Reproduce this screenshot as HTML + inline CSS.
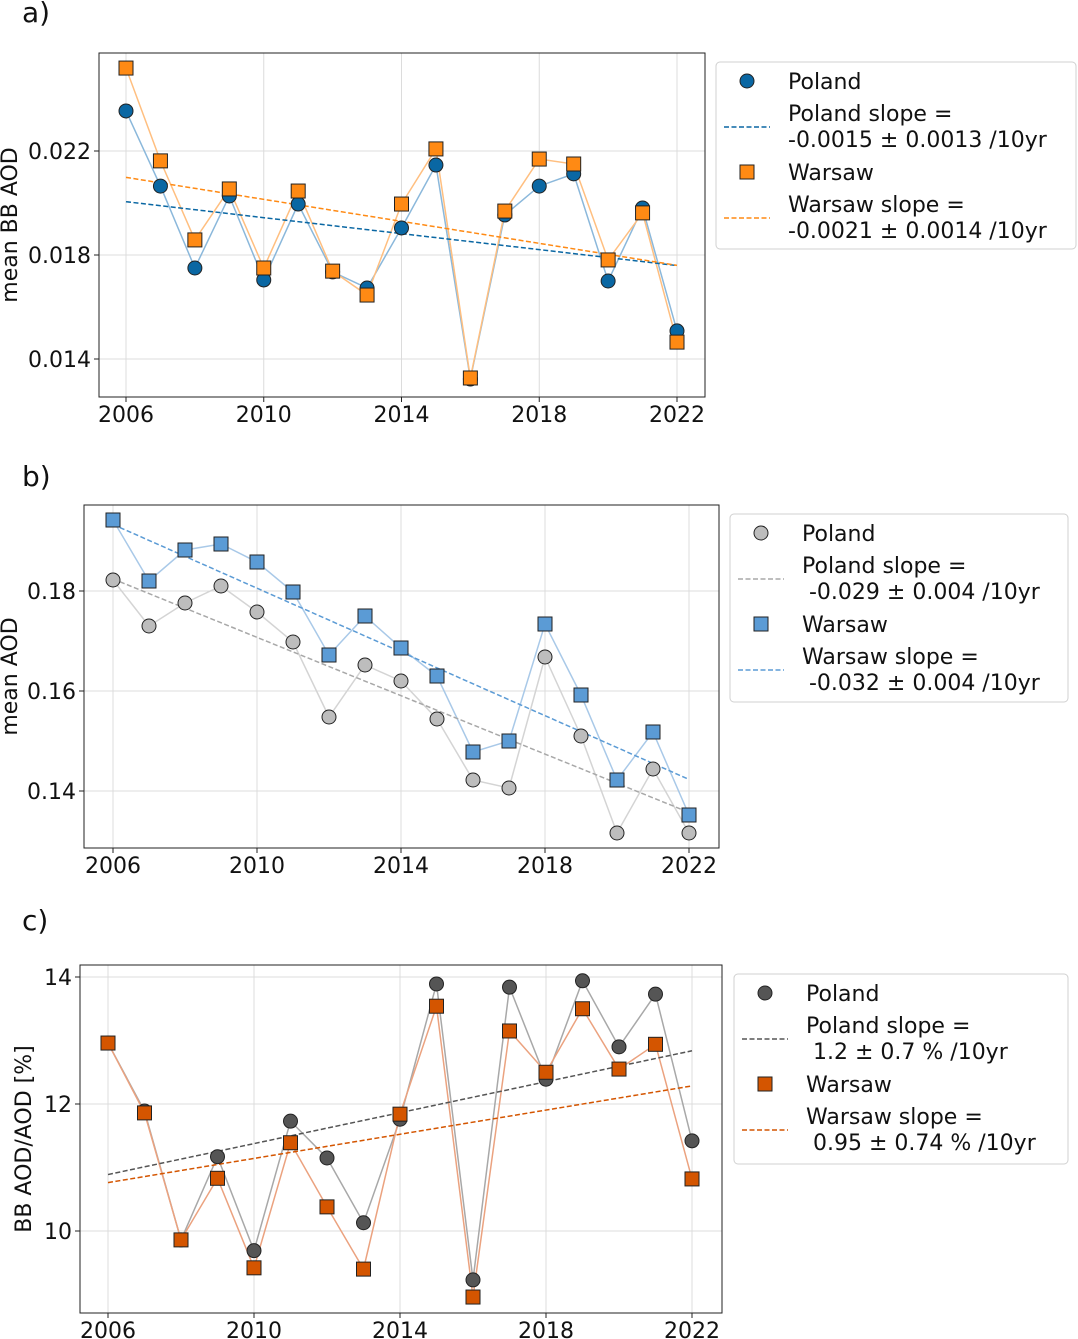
<!DOCTYPE html>
<html><head><meta charset="utf-8"><style>
body{margin:0;background:#fff;font-family:"DejaVu Sans","Liberation Sans",sans-serif}
svg{display:block}
svg text{font-family:"DejaVu Sans","Liberation Sans",sans-serif;white-space:pre}
</style></head><body>
<svg id="fig" width="1078" height="1339" viewBox="0 0 1078 1339" xmlns="http://www.w3.org/2000/svg"></svg>
<script>
const years=[2006,2007,2008,2009,2010,2011,2012,2013,2014,2015,2016,2017,2018,2019,2020,2021,2022];
const aPoland=[0.02354,0.02065,0.0175,0.02027,0.01704,0.01996,0.01735,0.01673,0.01904,0.02146,0.01323,0.01954,0.02065,0.02112,0.0170,0.01981,0.01508];
const aWarsaw=[0.02519,0.02162,0.01858,0.02054,0.0175,0.02046,0.01738,0.01646,0.01996,0.02208,0.01327,0.01969,0.02169,0.0215,0.01781,0.01962,0.01465];
const bPoland=[0.1822,0.173,0.1776,0.181,0.1758,0.1698,0.1548,0.1652,0.162,0.1544,0.1422,0.1406,0.1668,0.151,0.1316,0.1444,0.1316];
const bWarsaw=[0.1942,0.182,0.1882,0.1894,0.1858,0.1798,0.1672,0.175,0.1686,0.163,0.1478,0.15,0.1734,0.1592,0.1422,0.1518,0.1352];
const cPoland=[12.96,11.89,9.86,11.17,9.69,11.73,11.15,10.13,11.76,13.89,9.23,13.84,12.39,13.94,12.9,13.73,11.42];
const cWarsaw=[12.96,11.86,9.86,10.83,9.42,11.39,10.38,9.40,11.84,13.54,8.96,13.15,12.5,13.5,12.55,12.94,10.82];
const xTicks=[2006,2010,2014,2018,2022];
const aYTicks=[0.014,0.018,0.022];
const bYTicks=[0.14,0.16,0.18];
const cYTicks=[10,12,14];
const aYLabels=["0.014","0.018","0.022"];
const bYLabels=["0.14","0.16","0.18"];
const cYLabels=["10","12","14"];

const NS="http://www.w3.org/2000/svg";
const svg=document.getElementById('fig');
const FS=22;
function mk(tag,attrs,parent){const e=document.createElementNS(NS,tag);for(const k in attrs)e.setAttribute(k,attrs[k]);(parent||svg).appendChild(e);return e;}
function txt(s,attrs,parent){const e=mk('text',attrs,parent);e.textContent=s;return e;}
function fit(xs,ys){const n=xs.length;let mx=0,my=0;for(let i=0;i<n;i++){mx+=xs[i];my+=ys[i];}mx/=n;my/=n;let sxy=0,sxx=0;for(let i=0;i<n;i++){sxy+=(xs[i]-mx)*(ys[i]-my);sxx+=(xs[i]-mx)**2;}const b=sxy/sxx;return [my-b*mx,b];}

function panel(o){
  const g=mk('g',{},svg);
  
  
  const X=v=>o.x0+(v-2006)*(o.x1-o.x0)/16;
  const Y=v=>o.yA+(v-o.vA)*(o.yB-o.yA)/(o.vB-o.vA);
  xTicks.forEach(t=>{mk('line',{x1:X(t),x2:X(t),y1:o.top,y2:o.bot,stroke:'#dcdcdc','stroke-width':1},g);});
  o.yt.forEach(t=>{mk('line',{x1:o.left,x2:o.right,y1:Y(t),y2:Y(t),stroke:'#dcdcdc','stroke-width':1},g);});
  const series=[[o.p,o.pc,o.pl,'circle'],[o.w,o.wc,o.wl,'square']];
  const fits=[];
  series.forEach(([d,c,lc,m],si)=>{
    let pts=d.map((v,i)=>X(years[i])+','+Y(v)).join(' ');
    const pl=mk('polyline',{points:pts,fill:'none',stroke:lc,'stroke-width':1.5},g);
    
    
    fits.push(fit(years,d));
  });
  [[fits[0],o.pt],[fits[1],o.wt]].forEach(([f,c],i)=>{
    const l=mk('line',{x1:X(2006),y1:Y(f[0]+f[1]*2006),x2:X(2022),y2:Y(f[0]+f[1]*2022),stroke:c,'stroke-width':1.5,'stroke-dasharray':'5,2.5'},g);
    
    
  });
  series.forEach(([d,c,lc,m],si)=>{
    d.forEach((v,i)=>{
      let e;
      if(m==='circle') e=mk('circle',{cx:X(years[i]),cy:Y(v),r:7,fill:c,stroke:'#222','stroke-width':1},g);
      else e=mk('rect',{x:X(years[i])-7,y:Y(v)-7,width:14,height:14,fill:c,stroke:'#222','stroke-width':1},g);
      
      
    });
  });
  mk('rect',{x:o.left,y:o.top,width:o.right-o.left,height:o.bot-o.top,fill:'none',stroke:'#222','stroke-width':1},g);
  xTicks.forEach(t=>{mk('line',{x1:X(t),x2:X(t),y1:o.bot,y2:o.bot+5,stroke:'#222'},g);
    const tt=txt(String(t),{x:X(t),y:o.bot+25,'font-size':FS,'text-anchor':'middle',fill:'#111'},g);
    });
  o.yt.forEach((t,i)=>{mk('line',{x1:o.left-5,x2:o.left,y1:Y(t),y2:Y(t),stroke:'#222'},g);
    const tt=txt(o.yl[i],{x:o.left-8,y:Y(t)+8,'font-size':FS,'text-anchor':'end',fill:'#111'},g);
    });
  const yl=txt(o.ylabel,{x:0,y:0,'font-size':FS,'text-anchor':'middle',fill:'#111',transform:`translate(${o.ylx},${(o.top+o.bot)/2}) rotate(-90)`},g);
  
  const pl=txt(o.tag,{x:22,y:o.tagY,'font-size':28,fill:'#111'},g);
  
  const L=o.leg;
  const lg=mk('g',{},g);
  
  mk('rect',{x:L.x,y:L.y,width:L.w,height:L.h,rx:4,fill:'#fff',stroke:'#d0d0d0'},lg);
  const mx=L.x+31, tx=L.x+72;
  const r0=L.y+19;
  mk('circle',{cx:mx,cy:r0,r:7,fill:o.pc,stroke:'#222'},lg);
  txt('Poland',{x:tx,y:r0+8,'font-size':FS,fill:'#111'},lg);
  mk('line',{x1:mx-23,x2:mx+23,y1:r0+46,y2:r0+46,stroke:o.pt,'stroke-width':1.5,'stroke-dasharray':'5,2.5'},lg);
  txt(o.ps[0],{x:tx,y:r0+40,'font-size':FS,fill:'#111'},lg);
  txt(o.ps[1],{x:tx,y:r0+66,'font-size':FS,fill:'#111'},lg);
  const r2=r0+91;
  mk('rect',{x:mx-7,y:r2-7,width:14,height:14,fill:o.wc,stroke:'#222'},lg);
  txt('Warsaw',{x:tx,y:r2+8,'font-size':FS,fill:'#111'},lg);
  mk('line',{x1:mx-23,x2:mx+23,y1:r2+46,y2:r2+46,stroke:o.wt,'stroke-width':1.5,'stroke-dasharray':'5,2.5'},lg);
  txt(o.ws[0],{x:tx,y:r2+40,'font-size':FS,fill:'#111'},lg);
  txt(o.ws[1],{x:tx,y:r2+66,'font-size':FS,fill:'#111'},lg);
}

panel({name:'panel-a',tag:'a)',tagY:22,left:99,right:705,top:53,bot:397,x0:126,x1:677,yA:151,vA:0.022,yB:359,vB:0.014,
  yt:aYTicks,yl:aYLabels,ylabel:'mean BB AOD',ylx:17,
  p:aPoland,w:aWarsaw,pc:'#0a67a3',pl:'#8bb8db',pt:'#0a67a3',wc:'#ff8a14',wl:'#ffbf80',wt:'#ff8a14',
  ps:['Poland slope =','-0.0015 ± 0.0013 /10yr'],ws:['Warsaw slope =','-0.0021 ± 0.0014 /10yr'],
  leg:{x:716,y:62,w:360,h:187}});
panel({name:'panel-b',tag:'b)',tagY:486,left:84,right:719,top:505,bot:848,x0:113,x1:689,yA:591,vA:0.18,yB:791,vB:0.14,
  yt:bYTicks,yl:bYLabels,ylabel:'mean AOD',ylx:17,
  p:bPoland,w:bWarsaw,pc:'#bdbdbd',pl:'#d4d4d4',pt:'#a8a8a8',wc:'#5b9bd5',wl:'#a9c9e8',wt:'#5b9bd5',
  ps:['Poland slope =',' -0.029 ± 0.004 /10yr'],ws:['Warsaw slope =',' -0.032 ± 0.004 /10yr'],
  leg:{x:730,y:514,w:338,h:188}});
panel({name:'panel-c',tag:'c)',tagY:930,left:80,right:722,top:965,bot:1313,x0:108,x1:692,yA:1104,vA:12,yB:1231,vB:10,
  yt:cYTicks,yl:cYLabels,ylabel:'BB AOD/AOD [%]',ylx:31,
  p:cPoland,w:cWarsaw,pc:'#555555',pl:'#a8a8a8',pt:'#555555',wc:'#d45500',wl:'#eba27f',wt:'#d45500',
  ps:['Poland slope =',' 1.2 ± 0.7 % /10yr'],ws:['Warsaw slope =',' 0.95 ± 0.74 % /10yr'],
  leg:{x:734,y:974,w:334,h:190}});
</script>
</body></html>
